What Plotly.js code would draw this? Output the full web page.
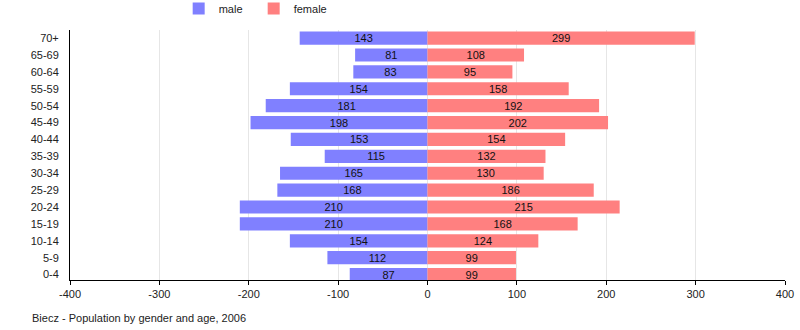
<!DOCTYPE html>
<html><head><meta charset="utf-8">
<script src="https://cdn.plot.ly/plotly-3.0.1.min.js"></script>
<style>html,body{margin:0;padding:0;background:#fff}#c{width:800px;height:330px}</style>
</head><body><div id="c"></div>
<script>
var ageGroups = ["0-4","5-9","10-14","15-19","20-24","25-29","30-34","35-39","40-44","45-49","50-54","55-59","60-64","65-69","70+"];
var male   = [87,112,154,210,210,168,165,115,153,198,181,154,83,81,143];
var female = [99,99,124,168,215,186,130,132,154,202,192,158,95,108,299];
var xTicks = [-400,-300,-200,-100,0,100,200,300,400];
var chartTitle = "Biecz - Population by gender and age, 2006";

var font = {family:"Liberation Sans, Arial, sans-serif", size:11, color:"#222"};
var traces = [
  {type:"bar", orientation:"h", name:"male", y:ageGroups, x:male.map(function(v){return -v;}),
   text:male.map(String), textposition:"inside", insidetextanchor:"middle", textangle:0, constraintext:"none",
   textfont:{family:font.family,size:11,color:"#111"}, marker:{color:"#8080FF"}, hoverinfo:"y+text"},
  {type:"bar", orientation:"h", name:"female", y:ageGroups, x:female,
   text:female.map(String), textposition:"inside", insidetextanchor:"middle", textangle:0, constraintext:"none",
   textfont:{family:font.family,size:11,color:"#111"}, marker:{color:"#FF8080"}, hoverinfo:"y+text"}
];
var layout = {
  width:800, height:330, margin:{l:70, r:15, t:30, b:50, autoexpand:false},
  paper_bgcolor:"#fff", plot_bgcolor:"#fff", font:font,
  barmode:"relative", bargap:0.22,
  xaxis:{range:[-400,400], tickvals:xTicks, ticktext:xTicks.map(String), showgrid:true, gridcolor:"#e6e6e6",
    zeroline:false, showline:true, linecolor:"#000", linewidth:1, ticks:"outside", ticklen:4, tickcolor:"#000",
    tickfont:font, fixedrange:true},
  yaxis:{type:"category", range:[-0.32,14.48], showgrid:false, zeroline:false, showline:true, linecolor:"#000", linewidth:1,
    ticks:"", ticklabelstandoff:8, tickfont:font, fixedrange:true},
  showlegend:true,
  legend:{orientation:"h", x:0.152, xanchor:"left", y:1.086, yanchor:"middle", font:font, entrywidth:30, traceorder:"normal",
    bgcolor:"rgba(0,0,0,0)"},
  annotations:[{text:chartTitle, xref:"paper", yref:"paper", x:-0.056, xanchor:"left", y:-0.12, yanchor:"top",
    showarrow:false, font:font}]
};
Plotly.newPlot("c", traces, layout, {displayModeBar:false, staticPlot:true});
</script></body></html>
